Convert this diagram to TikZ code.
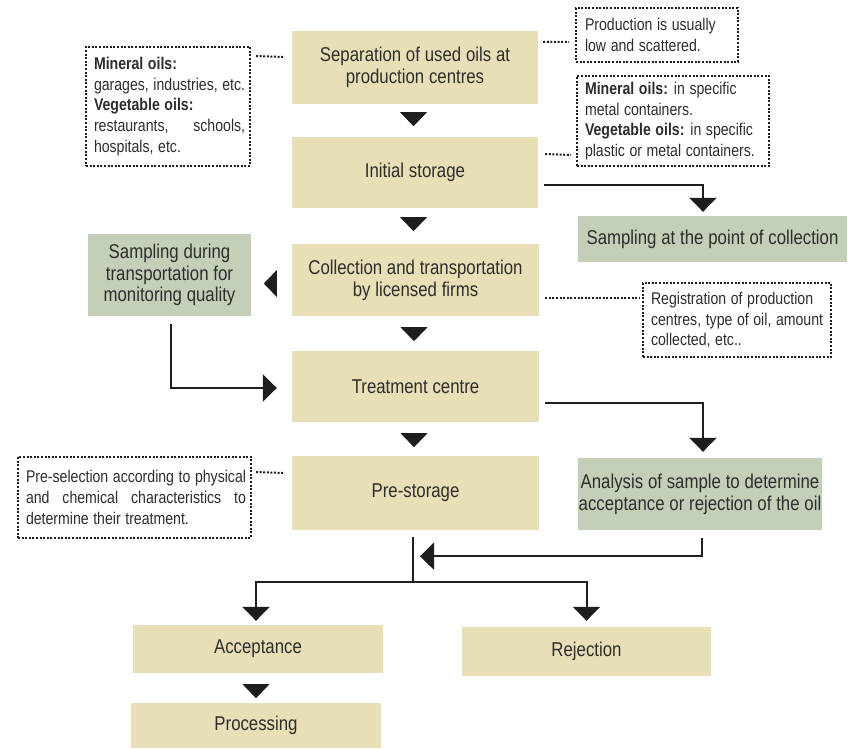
\documentclass[tikz,border=0pt]{standalone}
\usepackage{fontspec}
\usepackage{calc}
\setmainfont[FakeStretch=0.84]{Liberation Sans}
\newfontfamily\notefam[FakeStretch=0.83]{Liberation Sans}
\usetikzlibrary{arrows.meta,calc}
\definecolor{beige}{RGB}{232,223,182}
\definecolor{sage}{RGB}{195,207,183}
\definecolor{txt}{RGB}{45,45,45}
\definecolor{arrowc}{RGB}{30,30,30}
\newcommand{\mainsz}{\fontsize{20}{21.7}\selectfont\spaceskip=0.24em plus 0.1em minus 0.05em\relax}
\newcommand{\smallsz}{\notefam\fontsize{17}{20.8}\selectfont}
\newcommand{\notespace}{\spaceskip=0.27em plus 0.3em minus 0.05em\xspaceskip=0.35em\relax}
\begin{document}
\begin{tikzpicture}[x=1pt,y=-1pt,
  mainbox/.style={fill=beige, inner sep=0pt, align=center, font=\mainsz, text=txt},
  greenbox/.style={fill=sage, inner sep=0pt, align=center, font=\mainsz, text=txt},
  notebox/.style={draw=arrowc, line width=2pt, dash pattern=on 2pt off 1.6pt, inner sep=0pt, align=left, font=\smallsz, text=txt, execute at begin node=\notespace},
  dotline/.style={draw=arrowc, line width=2pt, dash pattern=on 2pt off 1.6pt},
  conn/.style={draw=arrowc, line width=2pt, -{Triangle[width=27pt,length=14pt]}},
  dtri/.pic={\fill[arrowc] (-13.5,0) -- (13.5,0) -- (0,14) -- cycle;},
  ltri/.pic={\fill[arrowc] (0,-13.5) -- (0,13.5) -- (-13,0) -- cycle;}
]
\useasboundingbox (0,0) rectangle (859,748);

% main flow
\node[mainbox, minimum width=246pt, minimum height=73pt] (sep) at (415,67.5) {Separation of used oils at\\production centres};
\node[mainbox, minimum width=246pt, minimum height=71pt] (init) at (415,172.5) {Initial storage};
\node[mainbox, minimum width=247pt, minimum height=72pt] (coll) at (415.5,280) {Collection and transportation\\by licensed firms};
\node[mainbox, minimum width=247pt, minimum height=71pt] (treat) at (415.5,386.5) {Treatment centre};
\node[mainbox, minimum width=247pt, minimum height=74pt] (pre) at (415.5,493) {Pre-storage};
\node[mainbox, minimum width=250pt, minimum height=48pt] (acc) at (258,649) {Acceptance};
\node[mainbox, minimum width=250pt, minimum height=45pt] (proc) at (256,725.5) {Processing};
\node[mainbox, minimum width=249pt, minimum height=49pt] (rej) at (586.5,651.5) {Rejection};

% green boxes
\node[greenbox, minimum width=269pt, minimum height=46pt] (samp1) at (712.5,239) {Sampling at the point of collection};
\node[greenbox, minimum width=163pt, minimum height=82pt] (samp2) at (169.5,275) {Sampling during\\transportation for\\monitoring quality};
\node[greenbox, minimum width=244pt, minimum height=72pt] (anal) at (700,494) {Analysis of sample to determine\\acceptance or rejection of the oil};

% note boxes
\node[notebox, minimum width=164pt, minimum height=119pt, text width=148pt] (mlft) at (168,106.5)
  {\mbox{\textbf{Mineral oils:}}\\\mbox{garages, industries, etc.}\\\mbox{\textbf{Vegetable oils:}}\\\makebox[\widthof{garages, industries, etc.}][s]{restaurants, schools,}\\\mbox{hospitals, etc.}};
\node[notebox, minimum width=162pt, minimum height=54pt, text width=144pt] (prod) at (657,35)
  {\mbox{Production is usually}\\\mbox{low and scattered.}};
\node[notebox, minimum width=192pt, minimum height=90pt, text width=176pt] (mrgt) at (673,121)
  {\mbox{\textbf{Mineral oils:} in specific}\\\mbox{metal containers.}\\\mbox{\textbf{Vegetable oils:} in specific}\\\mbox{plastic or metal containers.}};
\node[notebox, minimum width=188pt, minimum height=74pt, text width=172pt] (reg) at (737,320)
  {\mbox{Registration of production}\\\mbox{centres, type of oil, amount}\\\mbox{collected, etc..}};
\node[notebox, minimum width=233pt, minimum height=81pt, text width=217pt] (presel) at (134.5,497.5)
  {\mbox{Pre-selection according to physical}\\\makebox[\widthof{Pre-selection according to physical}][s]{and chemical characteristics to}\\\mbox{determine their treatment.}};

% dotted connectors
\draw[dotline] ($(mlft.north east)+(5,10)$) -- ($(sep.west)+(-7,-10.5)$);
\draw[dotline] ($(sep.north east)+(5,11)$) -- ($(prod.west)+(-6,7)$);
\draw[dotline] ($(init.east)+(7,-18.5)$) -- ($(mrgt.south west)+(-5,-12)$);
\draw[dotline] ($(coll.east)+(6,18)$) -- ($(reg.west)+(-3,-22)$);
\draw[dotline] ($(presel.north east)+(4,16)$) -- ($(pre.west)+(-7,-20)$);

% standalone triangles
\pic at ($(sep.south)+(-1.5,8)$) {dtri};
\pic at ($(init.south)+(-1.5,9)$) {dtri};
\pic at ($(coll.south)+(-1.5,11)$) {dtri};
\pic at ($(treat.south)+(-1.5,11)$) {dtri};
\pic at ($(acc.south)+(-2,11)$) {dtri};
\pic at ($(coll.west)+(-15,3.5)$) {ltri};

% solid connectors
\draw[conn, shorten >=4pt] ($(init.east)+(6,12.5)$) -| ($(samp1.north)+(-9.5,0)$);
\draw[conn, shorten >=6pt] ($(treat.east)+(6,16.5)$) -| ($(anal.north)+(3,0)$);
\draw[conn, shorten >=15pt] ($(samp2.south)+(1.5,8)$) |- ($(treat.west)+(0,1.5)$);

\coordinate (j) at ($(pre.south)+(-2.5,52)$);
\coordinate (mrg) at ($(pre.south)+(-2.5,26)$);
\draw[draw=arrowc, line width=2pt] ($(pre.south)+(-2.5,7)$) -- (j);
\draw[conn, shorten >=7pt] ($(anal.south)+(2,8)$) |- (mrg);
\draw[conn, shorten >=4pt] (j) -| ($(acc.north)+(-2,0)$);
\draw[conn, shorten >=6pt] (j) -| (rej.north);
\end{tikzpicture}
\end{document}
